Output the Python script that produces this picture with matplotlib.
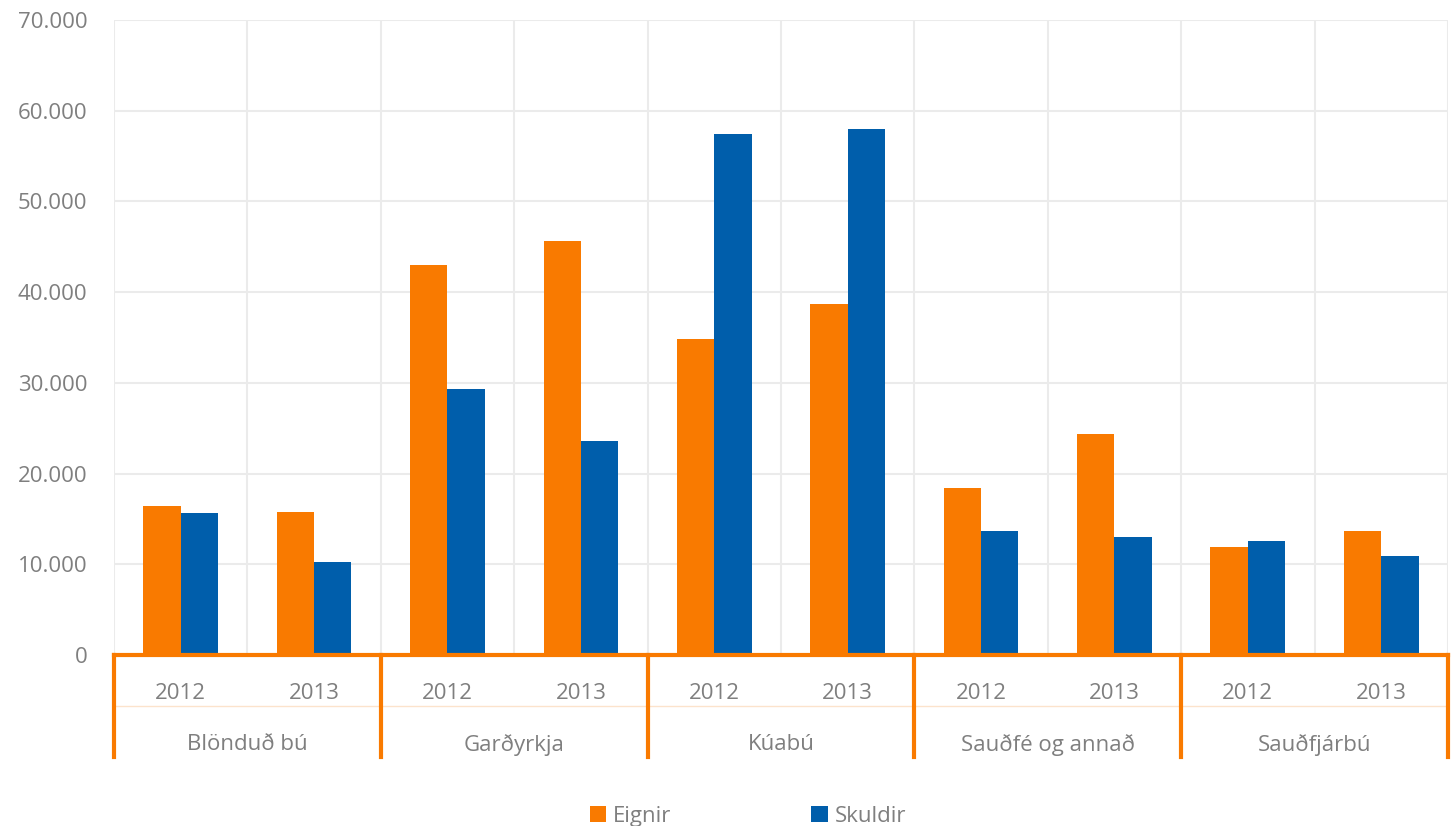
import numpy as np
import matplotlib.pyplot as plt
from matplotlib.ticker import FuncFormatter

plt.rcParams['font.family'] = ['Open Sans', 'DejaVu Sans']

# gögn
groups = ['Blönduð bú', 'Garðyrkja', 'Kúabú', 'Sauðfé og annað', 'Sauðfjárbú']
years = ['2012', '2013']
eignir = [16400, 15750, 43000, 45600, 34800, 38650, 18400, 24350, 11900, 13650]
skuldir = [15650, 10250, 29300, 23550, 57400, 57950, 13650, 13000, 12550, 10900]

orange = '#F97A00'
blue = '#005EAB'
grey = '#7F7F7F'

fig = plt.figure(figsize=(14.52, 8.26), dpi=100)
ax = fig.add_axes([0.0785, 0.207, 0.9187, 0.7688])

n = len(eignir)
x = np.arange(n)
w = 0.28
ax.bar(x - w / 2, eignir, w, color=orange, label='Eignir', zorder=3)
ax.bar(x + w / 2, skuldir, w, color=blue, label='Skuldir', zorder=3)

ax.set_xlim(-0.5, n - 0.5)
ax.set_ylim(0, 70000)
ax.set_yticks(np.arange(0, 70001, 10000))
ax.yaxis.set_major_formatter(FuncFormatter(lambda v, p: f'{int(v):,}'.replace(',', '.')))
ax.tick_params(axis='y', length=0, labelsize=16, labelcolor=grey, pad=19)
ax.set_xticks([])

# rist
for yv in np.arange(10000, 70001, 10000):
    ax.axhline(yv, color='#EBEBEB', lw=1.5, zorder=0)
for xv in np.arange(-0.5, n, 1):
    ax.axvline(xv, color='#EBEBEB', lw=1.5, zorder=0)

for s in ax.spines.values():
    s.set_visible(False)
ax.axhline(0, color=orange, lw=3, zorder=4, clip_on=False)

# flokkaásar
trans = ax.get_xaxis_transform()
for i in range(n):
    ax.text(i, -0.06, years[i % 2], transform=trans, ha='center', va='center',
            fontsize=16, color=grey)
for j, g in enumerate(groups):
    ax.text(2 * j + 0.5, -0.141, g, transform=trans, ha='center', va='center',
            fontsize=16, color=grey)
for j in range(len(groups) + 1):
    ax.plot([2 * j - 0.5, 2 * j - 0.5], [0, -0.16], transform=trans, color=orange,
            lw=3, clip_on=False, zorder=4)
ax.plot([-0.5, n - 0.5], [-0.081, -0.081], transform=trans, color='#FCE3CC',
        lw=1, clip_on=False)

fig.legend(loc='lower center', bbox_to_anchor=(0.515, -0.025), ncol=2, frameon=False,
           fontsize=16, labelcolor=grey, handlelength=0.75, handleheight=0.75,
           handletextpad=0.3, columnspacing=6.3)

fig.savefig('out.png', dpi=100)
